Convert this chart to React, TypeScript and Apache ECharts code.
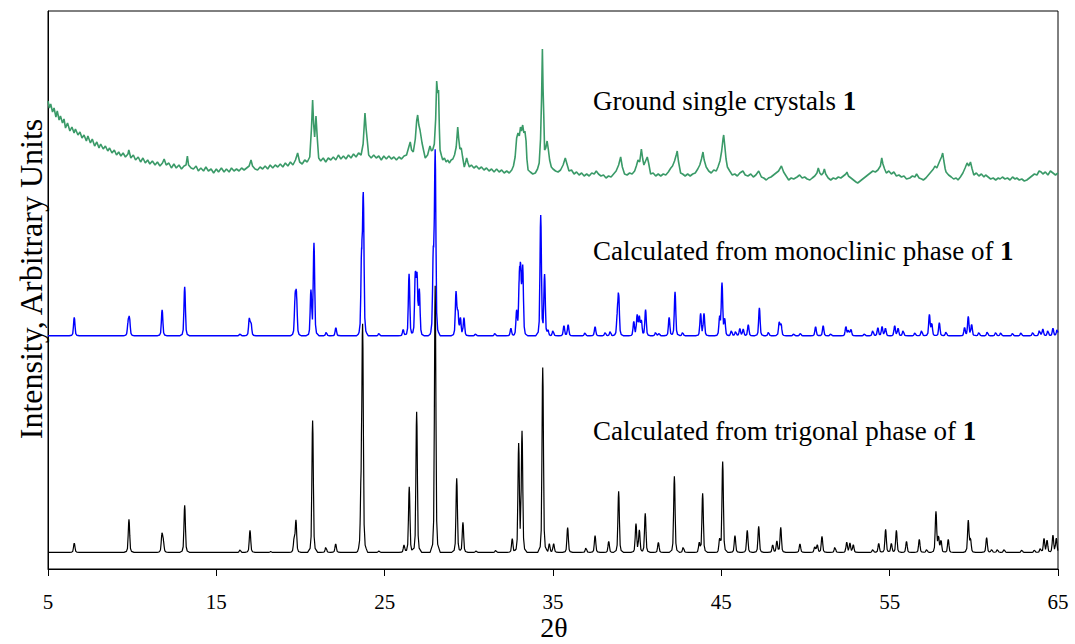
import React, { useEffect, useRef } from "react";
import * as echarts from "echarts";

// Calculated reflections of the trigonal phase: [2θ, intensity]
const TRIGONAL_PEAKS: [number, number][] = [
  [6.56, 9.3], [9.81, 33], [11.77, 17.4], [11.85, 10], [13.12, 47], [16.41, 2.6], [17.0, 22],
  [18.23, 1], [19.62, 12], [19.73, 31.5], [20.72, 132], [21.51, 5.5], [22.09, 8.5], [23.6, 55],
  [23.69, 222], [24.66, 1.5], [26.15, 7.4], [26.46, 65.5], [26.9, 140.7], [28.0, 266.6],
  [29.28, 74], [29.65, 30], [30.43, 1.5], [31.6, 2], [32.58, 13.7], [32.96, 107], [33.16, 119.6],
  [34.39, 185], [34.78, 8.5], [35.04, 8.5], [35.87, 24.8], [36.96, 4.8], [37.5, 16.7], [38.31, 11],
  [38.9, 61], [39.93, 28.5], [40.13, 22], [40.48, 39], [41.26, 10], [42.21, 76], [42.74, 5.5],
  [43.69, 9], [43.89, 59], [44.9, 12], [45.08, 90.7], [45.81, 16.7], [46.54, 22], [47.22, 26],
  [48.05, 7.4], [48.3, 11], [48.53, 24.8], [49.67, 8.5], [50.55, 5.5], [50.7, 7.4], [50.98, 16],
  [51.75, 5.5], [52.45, 10], [52.64, 9], [52.84, 7.4], [54.0, 3], [54.35, 9], [54.76, 23],
  [55.1, 9], [55.4, 22], [56.0, 11], [56.76, 13], [57.2, 3], [57.75, 40.7], [57.9, 15],
  [58.05, 12], [58.48, 13], [59.67, 31.5], [59.8, 13], [60.76, 14.8], [61.06, 3], [61.4, 3],
  [61.8, 3], [62.85, 2.5], [63.6, 2.5], [63.95, 4], [64.17, 13.7], [64.35, 12], [64.7, 17],
  [64.9, 14],
];

// Calculated reflections of the monoclinic phase: [2θ, intensity]
const MONOCLINIC_PEAKS: [number, number][] = [
  [6.56, 18.5], [9.76, 12], [9.84, 16.7], [11.78, 26], [13.12, 49], [16.41, 2], [16.96, 16.7],
  [17.06, 12], [19.68, 34], [19.76, 37], [20.62, 44], [20.8, 92], [21.53, 3.7], [22.1, 8],
  [23.63, 74], [23.73, 136], [24.66, 2.5], [26.1, 6.3], [26.45, 62], [26.82, 58], [26.92, 56],
  [27.06, 44], [27.89, 74], [28.0, 180], [29.24, 42.6], [29.35, 22], [29.5, 17], [29.71, 17.8],
  [30.4, 2], [31.55, 2.5], [32.5, 7.4], [32.84, 24], [33.0, 50], [33.08, 56], [33.2, 66],
  [34.27, 120], [34.5, 60], [34.7, 5], [35.0, 5.5], [35.65, 10], [35.9, 11], [36.9, 3], [37.5, 9],
  [38.1, 3.5], [38.4, 4.5], [38.82, 18], [38.9, 40], [39.8, 14], [40.0, 20], [40.13, 18],
  [40.25, 14], [40.5, 26], [41.1, 3.5], [41.3, 2.5], [41.9, 18.5], [42.25, 44], [42.7, 3.5],
  [43.77, 22], [43.97, 22], [44.9, 18], [45.04, 52], [45.2, 16], [45.6, 5.5], [45.85, 4.5],
  [46.1, 7], [46.3, 6.5], [46.6, 11], [47.26, 28], [47.8, 3.7], [48.44, 13], [48.55, 11],
  [49.3, 2], [49.7, 2.5], [50.6, 9], [51.05, 10], [51.5, 2], [52.4, 9], [52.55, 5.5], [52.7, 6.5],
  [53.5, 2], [54.0, 5.5], [54.3, 8], [54.55, 9], [54.75, 7.4], [55.3, 10], [55.5, 7.4],
  [55.8, 5.5], [56.5, 3], [56.9, 5.5], [57.36, 21], [57.5, 12], [57.95, 13], [58.35, 4],
  [59.45, 8], [59.67, 19], [59.87, 11], [60.3, 3.5], [60.8, 4], [61.3, 3.5], [61.6, 3],
  [62.3, 2.5], [62.8, 3], [63.5, 3.5], [63.9, 5.5], [64.1, 6.5], [64.4, 5.5], [64.7, 7.4],
  [64.95, 6.5],
];

// Measured pattern of the ground single crystals: [2θ, intensity]
const GROUND_PATTERN: [number, number][] = [
  [5.0, 468], [5.08, 461], [5.16, 465], [5.27, 457], [5.36, 461], [5.47, 452], [5.55, 458],
  [5.66, 449], [5.74, 453], [5.86, 446], [5.95, 450], [6.04, 441], [6.16, 446], [6.3, 438],
  [6.42, 442], [6.55, 436], [6.63, 440], [6.78, 434], [6.9, 437], [7.02, 431], [7.14, 434],
  [7.28, 428], [7.37, 433], [7.52, 426], [7.63, 430], [7.77, 423], [7.9, 427], [8.03, 421],
  [8.13, 425], [8.28, 420], [8.41, 423], [8.55, 418], [8.66, 421], [8.8, 416], [8.94, 419],
  [9.07, 414], [9.2, 417], [9.33, 413], [9.46, 416], [9.6, 412], [9.75, 415], [9.8, 419],
  [9.92, 411], [10.07, 414], [10.2, 409], [10.36, 412], [10.5, 407], [10.64, 411], [10.78, 406],
  [10.92, 409], [11.05, 405], [11.2, 408], [11.36, 404], [11.5, 407], [11.65, 403], [11.8, 406],
  [11.9, 410], [12.02, 404], [12.18, 406], [12.33, 401], [12.48, 405], [12.62, 401], [12.78, 404],
  [12.93, 400], [13.08, 403], [13.2, 404], [13.28, 413], [13.35, 404], [13.5, 401], [13.64, 400],
  [13.8, 403], [13.93, 398], [14.08, 401], [14.24, 398], [14.38, 402], [14.53, 398], [14.69, 400],
  [14.84, 396], [15.0, 400], [15.13, 397], [15.3, 401], [15.46, 397], [15.6, 400], [15.76, 397],
  [15.9, 401], [16.05, 398], [16.2, 400], [16.35, 398], [16.5, 401], [16.65, 399], [16.8, 401],
  [16.95, 403], [17.06, 409], [17.15, 403], [17.3, 400], [17.45, 399], [17.6, 402], [17.75, 400],
  [17.9, 403], [18.05, 400], [18.2, 404], [18.35, 401], [18.5, 404], [18.65, 402], [18.8, 405],
  [18.95, 402], [19.1, 406], [19.25, 403], [19.4, 407], [19.55, 404], [19.7, 409], [19.83, 416],
  [19.95, 407], [20.1, 405], [20.25, 409], [20.4, 407], [20.55, 412], [20.65, 440], [20.72, 469],
  [20.78, 445], [20.84, 432], [20.92, 453], [21.0, 430], [21.08, 411], [21.2, 408], [21.35, 411],
  [21.5, 407], [21.65, 411], [21.8, 409], [21.95, 412], [22.1, 409], [22.25, 414], [22.4, 410],
  [22.55, 413], [22.7, 410], [22.85, 414], [23.0, 411], [23.15, 415], [23.3, 412], [23.45, 416],
  [23.6, 414], [23.72, 425], [23.83, 456], [23.9, 440], [23.97, 428], [24.05, 414], [24.2, 411],
  [24.35, 414], [24.5, 411], [24.65, 413], [24.8, 409], [24.95, 413], [25.1, 410], [25.25, 413],
  [25.4, 410], [25.55, 412], [25.7, 409], [25.85, 412], [26.0, 410], [26.15, 413], [26.3, 414],
  [26.45, 423], [26.52, 427], [26.6, 419], [26.7, 417], [26.82, 430], [26.9, 448], [26.96, 454],
  [27.03, 444], [27.1, 439], [27.22, 426], [27.32, 418], [27.41, 411], [27.55, 414], [27.69, 423],
  [27.78, 418], [27.85, 419], [27.95, 425], [28.03, 450], [28.09, 488], [28.15, 476], [28.2, 479],
  [28.25, 440], [28.29, 419], [28.38, 413], [28.45, 409], [28.55, 411], [28.65, 407], [28.75, 409],
  [28.84, 406], [28.95, 409], [29.05, 410], [29.15, 414], [29.25, 422], [29.34, 442], [29.4, 430],
  [29.47, 420], [29.55, 421], [29.63, 412], [29.73, 402], [29.8, 406], [29.87, 411], [29.95, 406],
  [30.03, 402], [30.15, 404], [30.3, 401], [30.45, 403], [30.6, 400], [30.75, 402], [30.9, 399],
  [31.05, 401], [31.2, 398], [31.35, 400], [31.5, 397], [31.65, 400], [31.8, 397], [31.95, 399],
  [32.1, 396], [32.25, 398], [32.4, 396], [32.55, 399], [32.65, 403], [32.75, 412], [32.84, 431],
  [32.92, 436], [33.0, 433], [33.07, 442], [33.13, 438], [33.2, 444], [33.27, 436], [33.33, 438],
  [33.4, 428], [33.45, 410], [33.52, 399], [33.65, 397], [33.8, 395], [33.95, 396], [34.08, 400],
  [34.18, 406], [34.26, 430], [34.32, 470], [34.37, 520], [34.41, 480], [34.45, 455], [34.5, 419],
  [34.57, 421], [34.65, 428], [34.72, 420], [34.8, 409], [34.9, 402], [35.0, 400], [35.15, 398],
  [35.3, 397], [35.45, 399], [35.6, 404], [35.73, 411], [35.83, 405], [35.95, 398], [36.1, 399],
  [36.25, 395], [36.4, 397], [36.55, 394], [36.7, 396], [36.85, 393], [37.0, 395], [37.15, 393],
  [37.3, 396], [37.45, 395], [37.57, 398], [37.7, 395], [37.85, 393], [38.0, 394], [38.15, 391],
  [38.3, 393], [38.45, 392], [38.6, 395], [38.75, 398], [38.9, 404], [39.02, 412], [39.12, 402],
  [39.25, 395], [39.4, 394], [39.55, 396], [39.7, 395], [39.85, 398], [39.95, 403], [40.05, 409],
  [40.15, 407], [40.25, 420], [40.33, 410], [40.4, 404], [40.5, 408], [40.6, 412], [40.68, 406],
  [40.8, 395], [40.95, 396], [41.1, 393], [41.25, 395], [41.4, 393], [41.55, 395], [41.7, 394],
  [41.85, 397], [42.0, 401], [42.1, 403], [42.22, 408], [42.32, 414], [42.38, 418], [42.45, 408],
  [42.58, 396], [42.7, 395], [42.85, 393], [43.0, 395], [43.15, 393], [43.3, 395], [43.45, 396],
  [43.6, 400], [43.72, 404], [43.82, 410], [43.91, 417], [43.98, 409], [44.1, 402], [44.25, 398],
  [44.4, 396], [44.55, 399], [44.7, 398], [44.8, 402], [44.92, 408], [45.02, 418], [45.1, 430],
  [45.14, 434], [45.2, 424], [45.28, 410], [45.36, 402], [45.5, 398], [45.65, 394], [45.8, 395],
  [45.95, 393], [46.1, 396], [46.28, 398], [46.42, 394], [46.58, 393], [46.75, 395], [46.9, 392],
  [47.05, 394], [47.22, 398], [47.38, 392], [47.52, 391], [47.67, 389], [47.8, 391], [47.95, 392],
  [48.1, 394], [48.25, 396], [48.4, 398], [48.57, 403], [48.7, 397], [48.85, 393], [49.0, 389],
  [49.15, 391], [49.3, 390], [49.5, 392], [49.65, 394], [49.8, 391], [49.95, 392], [50.1, 390],
  [50.26, 389], [50.4, 391], [50.55, 393], [50.68, 396], [50.76, 401], [50.85, 396], [50.95, 394],
  [51.05, 396], [51.12, 400], [51.2, 395], [51.35, 391], [51.5, 389], [51.65, 391], [51.8, 390],
  [51.95, 392], [52.1, 391], [52.25, 393], [52.4, 395], [52.46, 397], [52.55, 393], [52.7, 391],
  [52.85, 389], [53.0, 387], [53.1, 386], [53.25, 388], [53.4, 390], [53.55, 392], [53.7, 394],
  [53.85, 396], [54.0, 398], [54.15, 397], [54.3, 399], [54.45, 403], [54.53, 411], [54.6, 405],
  [54.7, 400], [54.8, 396], [54.95, 398], [55.1, 395], [55.25, 397], [55.4, 393], [55.55, 394],
  [55.7, 392], [55.85, 393], [56.0, 390], [56.2, 391], [56.35, 393], [56.5, 392], [56.6, 395],
  [56.75, 391], [56.9, 390], [57.0, 389], [57.15, 391], [57.3, 394], [57.45, 397], [57.6, 400],
  [57.69, 403], [57.8, 401], [57.9, 405], [58.0, 409], [58.08, 412], [58.15, 416], [58.22, 408],
  [58.3, 400], [58.35, 397], [58.5, 394], [58.66, 392], [58.8, 390], [58.95, 391], [59.06, 389],
  [59.2, 392], [59.35, 396], [59.48, 401], [59.6, 406], [59.7, 403], [59.8, 407], [59.9, 400],
  [60.0, 394], [60.15, 396], [60.3, 393], [60.45, 395], [60.6, 392], [60.7, 394], [60.85, 392],
  [61.0, 390], [61.15, 391], [61.3, 389], [61.45, 391], [61.56, 390], [61.7, 392], [61.85, 390],
  [62.0, 391], [62.15, 389], [62.3, 392], [62.45, 390], [62.55, 391], [62.7, 389], [62.85, 390],
  [63.0, 388], [63.15, 389], [63.3, 391], [63.45, 393], [63.6, 395], [63.75, 394], [63.88, 398],
  [64.0, 397], [64.1, 395], [64.25, 397], [64.4, 394], [64.55, 398], [64.7, 396], [64.85, 394],
  [65.0, 396],
];

// Vertical offsets that stack the calculated patterns
const TRIGONAL_OFFSET = 16.6;
const MONOCLINIC_OFFSET = 233.2;

const X_MIN = 5;
const X_MAX = 65;
const X_STEP = 10;
const Y_MAX = 558;

const LABELS = {
  ground: "Ground single crystals ",
  monoclinic: "Calculated from monoclinic phase of ",
  trigonal: "Calculated from trigonal phase of ",
  compound: "1",
  xName: "2θ",
  yName: "Intensity, Arbitrary Units",
};

// Narrow line profile used for each calculated reflection: [Δ2θ, fraction of height]
const PEAK_SHAPE: [number, number][] = [
  [-0.3, 0], [-0.15, 0.03], [-0.09, 0.12], [-0.05, 0.5], [-0.02, 0.9], [0, 1],
  [0.02, 0.9], [0.05, 0.5], [0.09, 0.12], [0.15, 0.03], [0.3, 0],
];

function shapeAt(d: number): number {
  for (let i = 0; i < PEAK_SHAPE.length - 1; i++) {
    const [d0, f0] = PEAK_SHAPE[i];
    const [d1, f1] = PEAK_SHAPE[i + 1];
    if (d >= d0 && d <= d1) return f0 + ((f1 - f0) * (d - d0)) / (d1 - d0);
  }
  return 0;
}

function buildProfile(peaks: [number, number][], offset: number): [number, number][] {
  const xs = new Set<number>([X_MIN, X_MAX]);
  for (const [p] of peaks) {
    for (const [dx] of PEAK_SHAPE) {
      const x = Math.round((p + dx) * 1000) / 1000;
      if (x >= X_MIN && x <= X_MAX) xs.add(x);
    }
  }
  return [...xs]
    .sort((a, b) => a - b)
    .map((x) => {
      let y = 0;
      for (const [p, h] of peaks) y += h * shapeAt(x - p);
      return [x, y + offset] as [number, number];
    });
}

const SERIF = "Liberation Serif";

function labelText(x: number, y: number, main: string) {
  return {
    type: "text",
    left: x,
    top: y,
    silent: true,
    style: {
      text: `{a|${main}}{b|${LABELS.compound}}`,
      rich: {
        a: { fontFamily: SERIF, fontSize: 27, fill: "#000" },
        b: { fontFamily: SERIF, fontSize: 27, fontWeight: "bold", fill: "#000" },
      },
    },
  };
}

export default function App() {
  const ref = useRef<HTMLDivElement>(null);

  useEffect(() => {
    if (!ref.current) return;
    const chart = echarts.init(ref.current, null, { renderer: "svg" });
    chart.setOption({
      animation: false,
      backgroundColor: "#fff",
      grid: {
        left: 48,
        top: 11,
        width: 1010,
        height: 558,
        show: true,
        borderColor: "#000",
        borderWidth: 1,
        backgroundColor: "transparent",
      },
      xAxis: {
        type: "value",
        min: X_MIN,
        max: X_MAX,
        interval: X_STEP,
        axisLine: { show: true, onZero: false, lineStyle: { color: "#000", width: 1 } },
        axisTick: { show: true, inside: false, length: 7, lineStyle: { color: "#000" } },
        axisLabel: {
          color: "#000",
          fontFamily: SERIF,
          fontSize: 21,
          margin: 22,
        },
        splitLine: { show: false },
      },
      yAxis: {
        type: "value",
        min: 0,
        max: Y_MAX,
        axisLine: { show: true, lineStyle: { color: "#000" } },
        axisTick: { show: false },
        axisLabel: { show: false },
        splitLine: { show: false },
      },
      series: [
        {
          name: "Ground single crystals",
          type: "line",
          data: GROUND_PATTERN,
          showSymbol: false,
          symbol: "none",
          silent: true,
          lineStyle: { color: "#3a9a68", width: 1.6 },
        },
        {
          name: "Monoclinic",
          type: "line",
          data: buildProfile(MONOCLINIC_PEAKS, MONOCLINIC_OFFSET),
          showSymbol: false,
          symbol: "none",
          silent: true,
          lineStyle: { color: "#0000ff", width: 1.4 },
        },
        {
          name: "Trigonal",
          type: "line",
          data: buildProfile(TRIGONAL_PEAKS, TRIGONAL_OFFSET),
          showSymbol: false,
          symbol: "none",
          silent: true,
          lineStyle: { color: "#000", width: 1.2 },
        },
      ],
      graphic: [
        labelText(593, 87, LABELS.ground),
        labelText(593, 237, LABELS.monoclinic),
        labelText(593, 417, LABELS.trigonal),
        {
          type: "text",
          x: 554,
          y: 627,
          silent: true,
          style: {
            text: LABELS.xName,
            fontFamily: SERIF,
            fontSize: 28,
            fill: "#000",
            align: "center",
            verticalAlign: "middle",
          },
        },
        {
          type: "text",
          x: 31,
          y: 279,
          rotation: Math.PI / 2,
          silent: true,
          style: {
            text: LABELS.yName,
            fontFamily: SERIF,
            fontSize: 32,
            fill: "#000",
            align: "center",
            verticalAlign: "middle",
          },
        },
      ],
    });
    return () => chart.dispose();
  }, []);

  return (
    <div
      ref={ref}
      style={{ position: "fixed", left: 0, top: 0, width: 1075, height: 644, background: "#fff" }}
    />
  );
}
